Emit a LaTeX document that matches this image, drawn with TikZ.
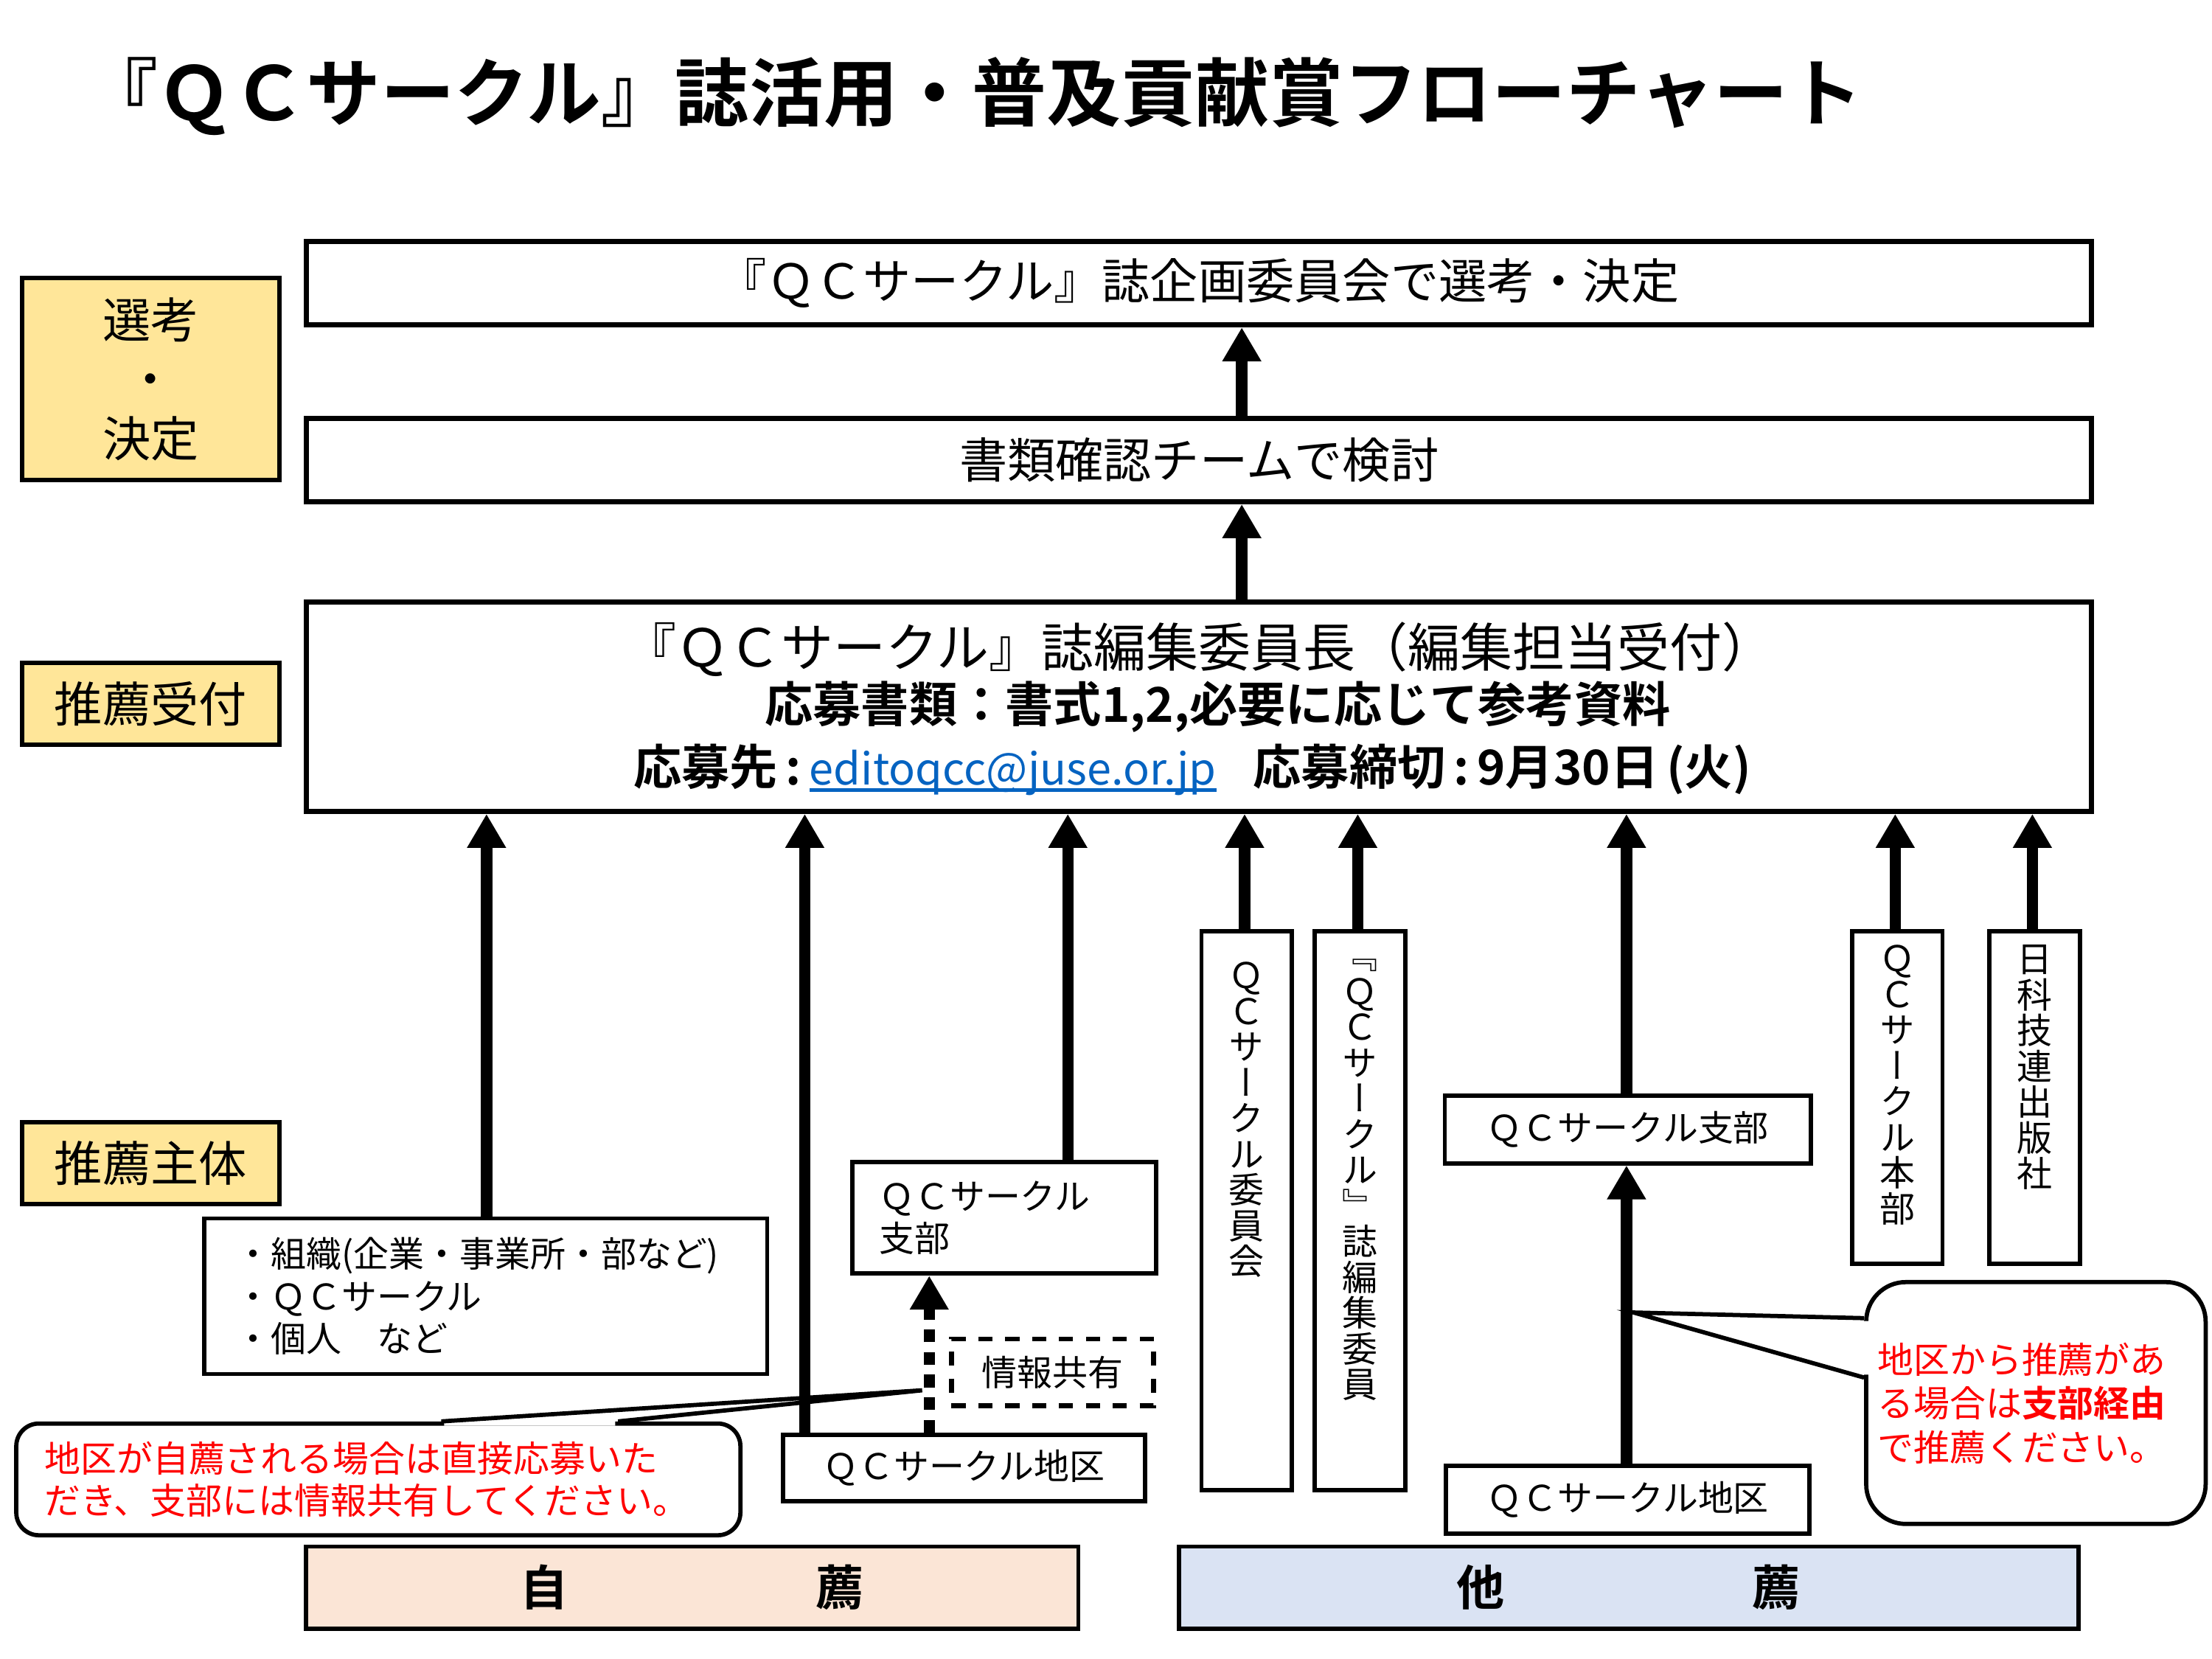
\documentclass[tikz,border=0pt]{standalone}
\usepackage{fontspec}
\setmainfont{Noto Sans CJK JP}[BoldFont={Noto Sans CJK JP Bold}]
\newfontfamily\vjp{Noto Sans CJK JP}[RawFeature=+vert]
\usetikzlibrary{arrows.meta}
\definecolor{labfill}{HTML}{FFE699}
\definecolor{jifill}{HTML}{FBE5D6}
\definecolor{tafill}{HTML}{DAE3F3}
\definecolor{mailblue}{HTML}{0563C1}
\definecolor{redtxt}{HTML}{FF0000}
\newcommand{\fsz}[2]{\fontsize{#1}{#2}\selectfont}
\newcommand{\mailul}[1]{\setbox0=\hbox{#1}\rlap{\rule[-5pt]{\wd0}{2.5pt}}\box0}
\begin{document}
\begin{tikzpicture}[x=1pt,y=-1pt,
  box/.style={draw, line width=3pt, fill=white, inner sep=0pt, anchor=north west, font=\fsz{25}{30}},
  bigbox/.style={box, line width=3.5pt, minimum width=1262pt},
  lab/.style={box, fill=labfill, minimum width=182pt, font=\fsz{34}{42}, align=center},
  vbox/.style={box, minimum width=64pt},
  vt/.style={font=\vjp\fsz{25}{25.3}, align=center, inner sep=0pt, anchor=north},
  bar/.style={box, minimum height=58pt, font=\bfseries\fsz{34}{40}},
  arr/.style={line width=8pt, -{Triangle[width=26pt,length=24pt]}},
  dotarr/.style={line width=8pt, dash pattern=on 9pt off 7pt, -{Triangle[width=26pt,length=24pt]}},
  tail/.style={line width=3pt, line join=miter}
]
\useasboundingbox (0,0) rectangle (1564,1173);
\fill[white] (0,0) rectangle (1564,1173);

% title
\node[font=\bfseries\fsz{52.5}{60}, inner sep=0pt] (title) at (688,68) {『ＱＣサークル』誌活用・普及貢献賞フローチャート};

% left labels
\node[lab, minimum height=143pt] (sel) at (14,195) {選考\\・\\決定};
\node[lab, minimum height=58pt] (rec) at (14,467) {推薦受付};
\node[lab, minimum height=58pt] (sub) at (14,792) {推薦主体};

% main boxes
\node[bigbox, minimum height=59pt, font=\fsz{34}{40}] (b1) at (215,169) {『ＱＣサークル』誌企画委員会で選考・決定};
\node[bigbox, minimum height=59pt, font=\fsz{34}{40}] (b2) at (215,294) {書類確認チームで検討};
\node[bigbox, minimum height=148pt] (b3) at (215,424) {};
\node[font=\fsz{37}{40}, inner sep=0pt] (b3a) at (848,459) {『ＱＣサークル』誌編集委員長（編集担当受付）};
\node[font=\bfseries\fsz{34}{40}, inner sep=0pt] (b3b) at (861,500) {応募書類：書式1,2,必要に応じて参考資料};
\node[font=\bfseries\fsz{34}{40}, inner sep=0pt] (b3c) at (843,544) {応募先\,:\,{\mdseries\fontsize{31}{40}\selectfont\color{mailblue}\mailul{editoqcc@juse.or.jp}}\hspace{26pt}応募締切\,:\,9月30日\,(火)};

% sources
\node[box, minimum width=398pt, minimum height=110pt, text width=354pt, inner xsep=22pt, align=left] (org) at (143,860) {・組織(企業・事業所・部など)\\・ＱＣサークル\\・個人　など};
\node[box, minimum width=215pt, minimum height=79pt, text width=177pt, inner xsep=19pt, align=left] (shibuL) at (601,820) {ＱＣサークル\\支部};
\node[box, dash pattern=on 10pt off 9pt, line width=3.5pt, minimum width=143pt, minimum height=47pt] (share) at (671,945) {情報共有};
\node[box, minimum width=256pt, minimum height=47pt] (chikuL) at (552,1013) {ＱＣサークル地区};

\node[vbox, minimum height=395pt] (comm) at (848,657) {};
\node[vt] (commT) at (comm.north |- 0,680) {Ｑ\\Ｃ\\サ\\ー\\ク\\ル\\委\\員\\会};
\node[vbox, minimum height=395pt] (edit) at (928,657) {};
\node[vt] (editT) at (edit.north |- 0,678) {﹃\\Ｑ\\Ｃ\\サ\\ー\\ク\\ル\\﹄\\誌\\編\\集\\委\\員};

\node[box, minimum width=259pt, minimum height=48pt] (shibuR) at (1020,773) {ＱＣサークル支部};
\node[box, minimum width=257pt, minimum height=48pt] (chikuR) at (1021,1035) {ＱＣサークル地区};

\node[vbox, minimum height=235pt] (honbu) at (1308,657) {};
\node[vt] (honbuT) at (honbu.north |- 0,668) {Ｑ\\Ｃ\\サ\\ー\\ク\\ル\\本\\部};
\node[vbox, minimum height=235pt] (pub) at (1405,657) {};
\node[vt] (pubT) at (pub.north |- 0,668) {日\\科\\技\\連\\出\\版\\社};

% callouts
\node[box, rounded corners=16pt, text width=472pt, inner xsep=20pt, minimum height=79pt, align=left, text=redtxt, font=\fsz{25.5}{30}] (calL) at (10,1005) {地区が自薦される場合は直接応募いた\\だき、支部には情報共有してください。};
\fill[white] (314,1002) -- (652,983) -- (435,1002) -- (435,1008) -- (314,1008) -- cycle;
\draw[tail] (312,1005) -- (652,983) -- (437,1005);

\node[box, rounded corners=28pt, text width=224pt, inner xsep=8pt, minimum height=171pt, align=left, text=redtxt, font=\fsz{25.5}{31}] (calR) at (1318,905) {地区から推薦があ\\る場合は\textbf{支部経由}\\で推薦ください。};
\fill[white] (1315,934) -- (1155,928) -- (1315,972) -- (1321,972) -- (1321,934) -- cycle;
\draw[tail] (1318,932) -- (1155,928) -- (1318,974);

% bottom bars
\node[bar, fill=jifill, minimum width=546pt] (jisen) at (215,1092) {自\hspace{175pt}薦};
\node[bar, fill=tafill, minimum width=636pt] (tasen) at (832,1092) {他\hspace{175pt}薦};

% arrows
\path (878,0) coordinate (xm) (344,0) coordinate (xa) (569,0) coordinate (xb)
      (755,0) coordinate (xc) (657,0) coordinate (xd) (880,0) coordinate (xe)
      (960,0) coordinate (xf) (1150,0) coordinate (xg) (1340,0) coordinate (xh)
      (1437,0) coordinate (xi);
\draw[arr] (b2.north -| xm) -- (b1.south -| xm);
\draw[arr] (b3.north -| xm) -- (b2.south -| xm);
\draw[arr] (org.north -| xa) -- (b3.south -| xa);
\draw[arr] (chikuL.north -| xb) -- (b3.south -| xb);
\draw[arr] (shibuL.north -| xc) -- (b3.south -| xc);
\draw[arr] (comm.north -| xe) -- (b3.south -| xe);
\draw[arr] (edit.north -| xf) -- (b3.south -| xf);
\draw[arr] (shibuR.north -| xg) -- (b3.south -| xg);
\draw[arr] (chikuR.north -| xg) -- (shibuR.south -| xg);
\draw[arr] (honbu.north -| xh) -- (b3.south -| xh);
\draw[arr] (pub.north -| xi) -- (b3.south -| xi);
\draw[dotarr] (chikuL.north -| xd) -- (shibuL.south -| xd);
\end{tikzpicture}
\end{document}
